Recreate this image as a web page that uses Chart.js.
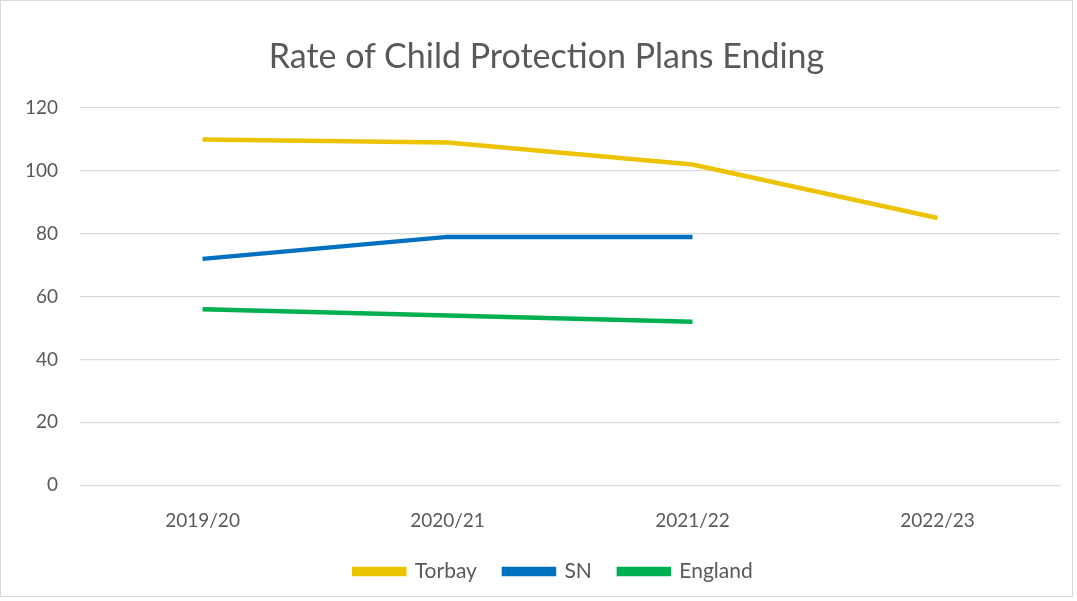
<!DOCTYPE html>
<html>
<head>
<meta charset="utf-8">
<script src="https://cdn.jsdelivr.net/npm/chart.js@4"></script>
<style>
  html, body { margin: 0; padding: 0; background: #fff; }
  #wrap { position: absolute; left: 0; top: 0; width: 1071px; height: 595px; border: 1px solid #d9d9d9; }
  #titulo { position: absolute; left: 0; top: 35px; width: 1093px; text-align: center;
            font-family: Lato, sans-serif; font-size: 34px; line-height: 40px; color: #595959; }
</style>
</head>
<body>
<div id="wrap"><canvas id="chart"></canvas></div>
<div id="titulo">Rate of Child Protection Plans Ending</div>
<script>
// datos
const years = ['2019/20', '2020/21', '2021/22', '2022/23'];
const torbay = [110, 109, 102, 85];
const sn = [72, 79, 79, null];
const england = [56, 54, 52, null];
const yTicks = [0, 20, 40, 60, 80, 100, 120];

const txtColor = '#595959';
const ctx = document.getElementById('chart').getContext('2d');

const serie = (label, data, color) => ({
  label: label,
  data: data,
  borderColor: color,
  backgroundColor: color,
  borderWidth: 4.5,
  pointRadius: 0,
  tension: 0,
  spanGaps: false
});

// mover la leyenda un poco a la derecha, como en el original
const moverLeyenda = {
  id: 'moverLeyenda',
  afterLayout(chart) {
    const l = chart.legend;
    if (l) { l.left += 22; l.right += 22; }
  }
};

new Chart(ctx, {
  type: 'line',
  data: {
    labels: years,
    datasets: [
      serie('Torbay', torbay, '#edc300'),
      serie('SN', sn, '#0070c0'),
      serie('England', england, '#00b050')
    ]
  },
  options: {
    responsive: true,
    maintainAspectRatio: false,
    animation: false,
    layout: { padding: { left: 2, right: 12, top: 107, bottom: 4 } },
    plugins: {
      title: { display: false },
      legend: {
        position: 'bottom',
        labels: {
          color: txtColor,
          font: { family: 'Lato', size: 21 },
          boxWidth: 50,
          boxHeight: 5,
          padding: 27
        }
      },
      tooltip: { enabled: false }
    },
    scales: {
      x: {
        offset: true,
        grid: { display: false, drawTicks: false },
        border: { display: true, color: '#d9d9d9', width: 1 },
        ticks: { color: txtColor, font: { family: 'Lato', size: 19 }, padding: 24 },
        afterFit: (axis) => { axis.height -= 22; }
      },
      y: {
        min: 0,
        max: 120,
        afterBuildTicks: (axis) => { axis.ticks = yTicks.map(v => ({ value: v })); },
        grid: { color: '#d9d9d9', lineWidth: 1.2, drawTicks: false },
        border: { display: false },
        ticks: { color: txtColor, font: { family: 'Lato', size: 19 }, padding: 22 }
      }
    }
  },
  plugins: [moverLeyenda]
});
</script>
</body>
</html>
